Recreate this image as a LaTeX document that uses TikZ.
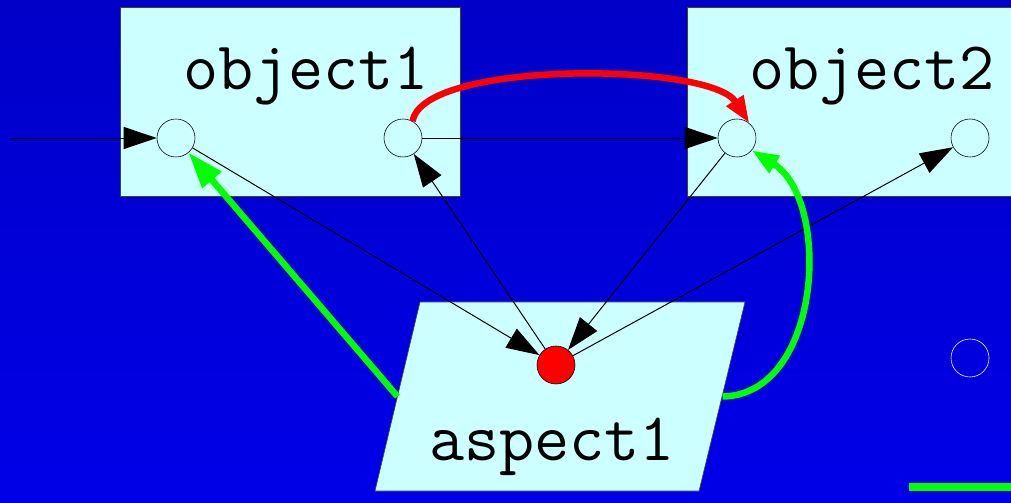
\documentclass[tikz,border=0pt]{standalone}
\usepackage{fontspec}
\usepackage{xcolor}
\usepackage{tikz}
\usetikzlibrary{shapes,positioning,calc,arrows.meta}
\definecolor{paleblue}{HTML}{CCFFFF}
\definecolor{boxline}{HTML}{404040}
\definecolor{bgtop}{HTML}{0000C8}
\definecolor{bgbottom}{HTML}{0000E8}
\definecolor{linkgreen}{HTML}{00FF00}
\definecolor{linkred}{HTML}{FF0000}

\begin{document}
\begin{tikzpicture}[x=0.025cm, y=-0.025cm,
    aop box/.style={draw=boxline, fill=paleblue, rectangle, minimum width=8.5cm, minimum height=4.725cm, inner sep=0pt},
    aop port/.style={draw, circle, fill=paleblue, minimum size=0.95cm, inner sep=0pt},
    aop label/.style={anchor=base, inner sep=0pt, font=\ttfamily\fontsize{48.5}{48.5}\selectfont},
    thin link/.style={line width=0.7pt, -{Triangle[length=8.25mm, width=5.5mm]}},
    thick link/.style={line width=4.6pt, -{Triangle[length=6.75mm, width=4.75mm]}}]
    \useasboundingbox (0,0) rectangle (1011,503);
    \shade[top color=bgtop, bottom color=bgbottom] (0,0) rectangle (1011,503);

    % objects and aspect
    \node[aop box] (obj1) at (290,101.5) {};
    \node[aop box] (obj2) at (857,101.5) {};
    \draw[draw=boxline, fill=paleblue] (420,302) -- (745,302) -- (699,491) -- (375,491) -- cycle;
    \coordinate (asp west) at (397.5,396.5);
    \coordinate (asp east) at (722.5,396.5);
    \node[aop label] (obj1 name) at (306,90) {object1};
    \node[aop label] (obj2 name) at (872,90) {object2};
    \node[aop label] (asp name) at (552,460) {aspect1};

    % ports
    \node[aop port] (in1) at (176,138) {};
    \node[aop port] (out1) at (403,138) {};
    \node[aop port] (in2) at (737,138) {};
    \node[aop port] (out2) at (970,138) {};
    \node[aop port, fill=linkred] (adv) at (556,365) {};
    \node[circle, draw=white, minimum size=0.95cm, inner sep=0pt] (spare) at (970,358) {};
    \coordinate (src) at (10,138);

    % plain links
    \draw[thin link] (src) -- (in1);
    \draw[thin link] (out1) -- (in2);
    \draw[thin link] (in1) -- (adv);
    \draw[thin link] (adv) -- (out1);
    \draw[thin link] (in2) -- (adv);
    \draw[thin link] (adv) -- (out2);

    % thick links
    \draw[thick link, linkred] (out1.60) .. controls (422,60) and (710,62) .. (in2.50);
    \draw[thick link, linkgreen, -{Triangle[length=9mm, width=6mm]}] (asp west) -- (in1);
    \draw[thick link, linkgreen] (asp east) .. controls (822,395) and (832,200) .. (in2.-40);
    \draw[linkgreen, line width=5.5pt] (909,487) -- (1011,487);
\end{tikzpicture}
\end{document}
